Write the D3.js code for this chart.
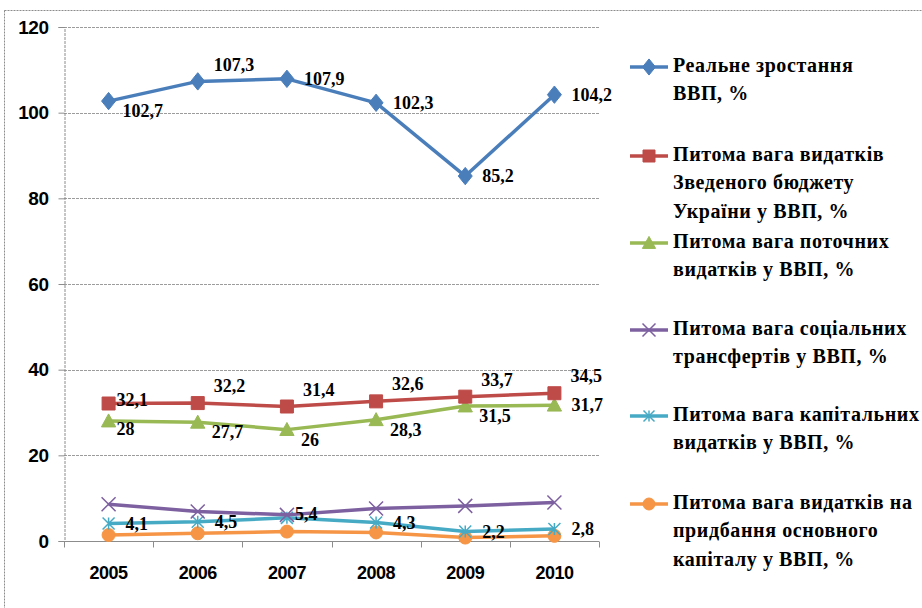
<!DOCTYPE html>
<html>
<head>
<meta charset="utf-8">
<script src="https://cdn.jsdelivr.net/npm/d3@7/dist/d3.min.js"></script>
<style>
  html, body { margin: 0; padding: 0; background: #fff; }
  svg { display: block; }
</style>
</head>
<body>
<svg id="chart" width="922" height="608"></svg>
<script>
// ---- data ----
const years = ["2005", "2006", "2007", "2008", "2009", "2010"];
const yTicks = [0, 20, 40, 60, 80, 100, 120];

const gdpGrowth      = [102.7, 107.3, 107.9, 102.3, 85.2, 104.2];
const budgetShare    = [32.1, 32.2, 31.4, 32.6, 33.7, 34.5];
const currentShare   = [28, 27.7, 26, 28.3, 31.5, 31.7];
const socialShare    = [8.6, 6.9, 6.1, 7.6, 8.2, 9.0];
const capitalShare   = [4.1, 4.5, 5.4, 4.3, 2.2, 2.8];
const fixedCapShare  = [1.4, 1.8, 2.2, 2.0, 0.8, 1.2];

const legendNames = [
  ["Реальне зростання", "ВВП, %"],
  ["Питома вага видатків", "Зведеного бюджету", "України у ВВП, %"],
  ["Питома вага поточних", "видатків у ВВП, %"],
  ["Питома вага соціальних", "трансфертів у ВВП, %"],
  ["Питома вага капітальних", "видатків у ВВП, %"],
  ["Питома вага видатків на", "придбання основного", "капіталу у ВВП, %"]
];

// label placement codes (null = no label)
const gdpLabelPos     = ["br", "ar", "r", "r", "r", "r"];
const budgetLabelPos  = ["rn", "ar", "ar", "ar", "ar", "ar"];
const currentLabelPos = ["brn", "br", "br", "br", "br", "r"];
const capitalLabelPos = ["r", "r", "rn", "r", "r", "r"];

// ---- layout / style ----
const plot = { left: 64, right: 599, top: 27, bottom: 541 };
const colors = ["#4A7EBB", "#BE4B48", "#98B954", "#7D60A0", "#46AAC5", "#F59545"];
const markers = ["diamond", "square", "triangle", "x", "asterisk", "circle"];
const serif = "'Liberation Serif', 'Times New Roman', 'DejaVu Serif', serif";

const series = [
  { values: gdpGrowth,     labels: gdpLabelPos },
  { values: budgetShare,   labels: budgetLabelPos },
  { values: currentShare,  labels: currentLabelPos },
  { values: socialShare,   labels: null },
  { values: capitalShare,  labels: capitalLabelPos },
  { values: fixedCapShare, labels: null }
];

const svg = d3.select("#chart");

// outer dashed border
svg.append("rect")
  .attr("x", 4.5).attr("y", 10.5).attr("width", 960).attr("height", 640)
  .attr("fill", "none").attr("stroke", "#8c8c8c").attr("stroke-width", 1)
  .attr("stroke-dasharray", "2,1");

const x = d3.scaleBand().domain(years).range([plot.left, plot.right]).padding(0);
const y = d3.scaleLinear().domain([0, 120]).range([plot.bottom, plot.top]);

// gridlines
svg.append("g").selectAll("line").data(yTicks.filter(t => t > 0)).join("line")
  .attr("x1", plot.left).attr("x2", plot.right)
  .attr("y1", d => Math.round(y(d)) + 0.5).attr("y2", d => Math.round(y(d)) + 0.5)
  .attr("stroke", "#9c9c9c").attr("stroke-width", 1).attr("stroke-dasharray", "3,1");

// y axis
const yAxis = svg.append("g")
  .attr("transform", `translate(${plot.left + 0.5},0)`)
  .call(d3.axisLeft(y).tickValues(yTicks).tickSize(6).tickPadding(10).tickFormat(d3.format("d")));
yAxis.select(".domain").attr("stroke", "#8c8c8c").attr("stroke-dasharray", "3,1");
yAxis.selectAll(".tick line").attr("stroke", "#8c8c8c");
yAxis.selectAll("text")
  .attr("font-family", "'Liberation Sans', Arial, sans-serif")
  .attr("font-weight", "bold").attr("font-size", 19).attr("fill", "#000")
  .style("letter-spacing", "-0.5px");

// x axis with ticks at band boundaries
const xAxisG = svg.append("g").attr("transform", `translate(0,${plot.bottom + 0.5})`);
xAxisG.append("line").attr("x1", plot.left).attr("x2", plot.right)
  .attr("stroke", "#8c8c8c").attr("stroke-width", 1.2);
const bounds = years.map(d => x(d)).concat([x(years[years.length - 1]) + x.bandwidth()]);
xAxisG.selectAll("line.tk").data(bounds).join("line").attr("class", "tk")
  .attr("x1", d => Math.round(d) + 0.5).attr("x2", d => Math.round(d) + 0.5)
  .attr("y1", 0).attr("y2", 6).attr("stroke", "#8c8c8c");
xAxisG.selectAll("text").data(years).join("text")
  .attr("x", d => x(d) + x.bandwidth() / 2).attr("y", 33)
  .attr("text-anchor", "middle").attr("dominant-baseline", "middle")
  .attr("font-family", "'Liberation Sans', Arial, sans-serif")
  .attr("font-weight", "bold").attr("font-size", 18).attr("fill", "#000")
  .style("letter-spacing", "-0.5px")
  .text(d => d);

// marker path generator
function markerPath(type, s) {
  switch (type) {
    case "diamond": return `M0,${-s * 0.62}L${s * 0.5},0L0,${s * 0.62}L${-s * 0.5},0Z`;
    case "square": return `M${-s / 2},${-s / 2}h${s}v${s}h${-s}Z`;
    case "triangle": return `M0,${-s * 0.55}L${s * 0.55},${s * 0.45}L${-s * 0.55},${s * 0.45}Z`;
    case "circle": return d3.symbol(d3.symbolCircle, Math.PI * (s / 2) * (s / 2))();
    case "x": { const h = s / 2; return `M${-h},${-h}L${h},${h}M${-h},${h}L${h},${-h}`; }
    case "asterisk": { const h = s / 2; return `M${-h},${-h}L${h},${h}M${-h},${h}L${h},${-h}M0,${-h}L0,${h}`; }
  }
}
function drawMarker(g, type, color, cx, cy, s) {
  const open = (type === "x" || type === "asterisk");
  g.append("path").attr("d", markerPath(type, s))
    .attr("transform", `translate(${cx},${cy})`)
    .attr("fill", open ? "none" : color)
    .attr("stroke", color).attr("stroke-width", open ? 1.5 : 1);
}
const markerSize = [14, 13, 13, 14, 12, 13];

const line = d3.line().x((d, i) => x(years[i]) + x.bandwidth() / 2).y(d => y(d));

// draw series (bottom-most first so GDP on top)
const drawOrder = [5, 4, 3, 2, 1, 0];
drawOrder.forEach(si => {
  const s = series[si];
  const g = svg.append("g");
  g.append("path").datum(s.values).attr("d", line)
    .attr("fill", "none").attr("stroke", colors[si]).attr("stroke-width", 3.5)
    .attr("stroke-linejoin", "round");
  s.values.forEach((v, i) => {
    drawMarker(g, markers[si], colors[si], x(years[i]) + x.bandwidth() / 2, y(v), markerSize[si]);
  });
});

// data labels
const offsets = {
  r:   [17, 2],
  rn:  [8, -2],
  ar:  [16, -15],
  br:  [14, 12],
  brn: [8, 10]
};
const fmt = v => String(v).replace(".", ",");
[0, 1, 2, 4].forEach(si => {
  const s = series[si];
  svg.append("g").selectAll("text").data(s.values).join("text")
    .attr("x", (d, i) => x(years[i]) + x.bandwidth() / 2 + offsets[s.labels[i]][0])
    .attr("y", (d, i) => y(d) + offsets[s.labels[i]][1])
    .attr("dominant-baseline", "middle")
    .attr("font-family", serif)
    .attr("font-weight", "bold").attr("font-size", 18).attr("fill", "#000")
    .text(d => fmt(d));
});

// legend
const legendCenters = [67, 156, 243, 330, 416, 504];
const lineGap = 28.5;
const lg = svg.append("g");
legendNames.forEach((lines, i) => {
  const cy = legendCenters[i];
  lg.append("line").attr("x1", 630).attr("x2", 668).attr("y1", cy).attr("y2", cy)
    .attr("stroke", colors[i]).attr("stroke-width", 3.5);
  drawMarker(lg, markers[i], colors[i], 649, cy, markerSize[i] - 1);
  lines.forEach((t, j) => {
    lg.append("text").attr("x", 673).attr("y", cy + j * lineGap)
      .attr("dominant-baseline", "middle")
      .attr("font-family", serif)
      .attr("font-weight", "bold").attr("font-size", 20).attr("fill", "#000")
      .style("letter-spacing", "0.6px")
      .text(t);
  });
});
</script>
</body>
</html>
